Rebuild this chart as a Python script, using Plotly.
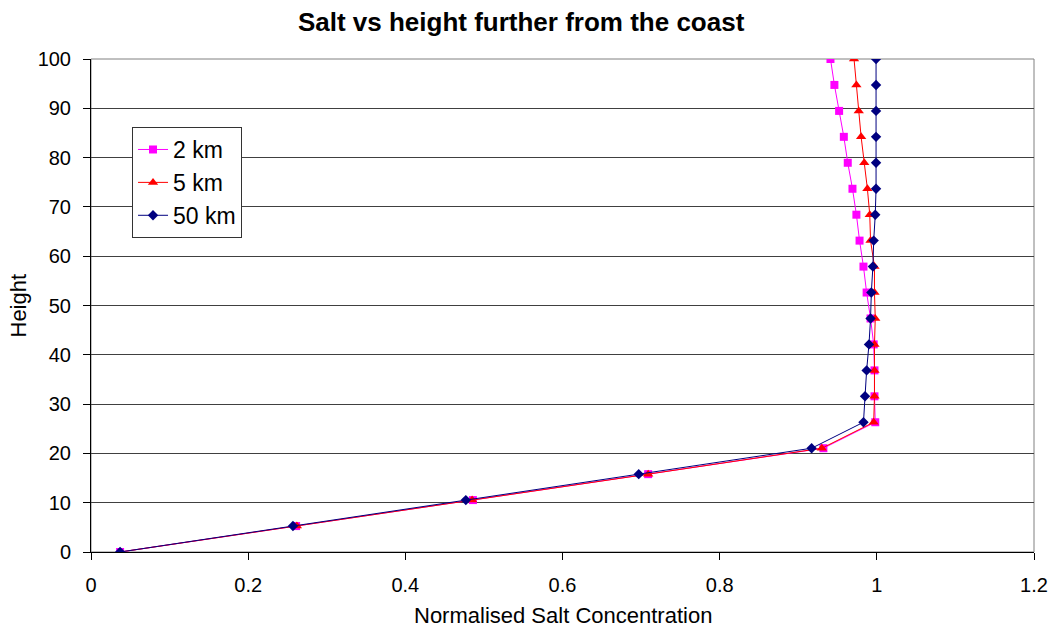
import plotly.graph_objects as go

height = [0, 5.26, 10.53, 15.79, 21.05, 26.32, 31.58, 36.84, 42.11, 47.37,
          52.63, 57.89, 63.16, 68.42, 73.68, 78.95, 84.21, 89.47, 94.74, 100]

salt_2km = [0.037, 0.261, 0.486, 0.709, 0.932, 0.998, 0.997, 0.997, 0.996, 0.992,
            0.987, 0.983, 0.978, 0.974, 0.969, 0.963, 0.958, 0.952, 0.946, 0.941]
salt_5km = [0.037, 0.262, 0.485, 0.709, 0.930, 0.996, 0.997, 0.997, 0.997, 0.998,
            0.997, 0.997, 0.992, 0.991, 0.988, 0.984, 0.980, 0.977, 0.974, 0.971]
salt_50km = [0.037, 0.257, 0.477, 0.697, 0.917, 0.983, 0.985, 0.987, 0.990, 0.992,
             0.993, 0.995, 0.996, 0.998, 0.999, 0.999, 0.999, 0.999, 0.999, 0.999]

series = [
    ("2 km", salt_2km, "#FF00FF", "square", 8),
    ("5 km", salt_5km, "#FF0000", "triangle-up", 9),
    ("50 km", salt_50km, "#000080", "diamond", 8),
]

fig = go.Figure()
for name, vals, color, sym, sz in series:
    fig.add_trace(go.Scatter(
        x=vals, y=height, name=name, mode="lines+markers",
        line=dict(color=color, width=1),
        marker=dict(symbol=sym, size=sz, color=color, line=dict(width=0)),
    ))

font = "Liberation Sans, Arial, sans-serif"
fig.update_layout(
    template="none",
    width=1057, height=631,
    paper_bgcolor="white", plot_bgcolor="white",
    margin=dict(l=91, r=23, t=59, b=79, autoexpand=False),
    title=dict(text="<b>Salt vs height further from the coast</b>",
               x=0.493, xanchor="center", xref="container", y=0.965, yanchor="middle", yref="container",
               font=dict(family=font, size=26, color="black")),
    font=dict(family=font, color="black"),
    showlegend=True,
    legend=dict(x=0.0435, y=0.862, xanchor="left", yanchor="top",
                bgcolor="white", bordercolor="#333333", borderwidth=1,
                font=dict(family=font, size=23, color="black"),
                tracegroupgap=0, itemsizing="trace", itemwidth=30),
    xaxis=dict(range=[0, 1.2], dtick=0.2, tick0=0, showgrid=False,
               showline=True, linecolor="black", linewidth=1, mirror=False,
               ticks="outside", ticklen=7, tickcolor="black", ticklabelstandoff=8,
               tickfont=dict(size=20), zeroline=False, automargin=False),
    yaxis=dict(range=[0, 100], dtick=10, showgrid=True, gridcolor="#404040", gridwidth=1,
               showline=True, linecolor="black", linewidth=1,
               ticks="outside", ticklen=7, tickcolor="black", ticklabelstandoff=8,
               tickfont=dict(size=20), zeroline=False, automargin=False),
)
fig.add_annotation(text="Normalised Salt Concentration", xref="paper", yref="paper",
                   x=0.5, y=-0.1278, xanchor="center", yanchor="middle", showarrow=False,
                   font=dict(family=font, size=22, color="black"))
fig.add_annotation(text="Height", xref="paper", yref="paper", textangle=-90,
                   x=-0.0774, y=0.5, xanchor="center", yanchor="middle", showarrow=False,
                   font=dict(family=font, size=22, color="black"))
fig.add_shape(type="rect", xref="paper", yref="paper", x0=0, x1=1, y0=0, y1=1,
              line=dict(color="#808080", width=1), layer="below")

fig.write_html("out.html", config={"displayModeBar": False},
               post_script="document.body.style.margin='0';document.body.style.overflow='hidden';")
